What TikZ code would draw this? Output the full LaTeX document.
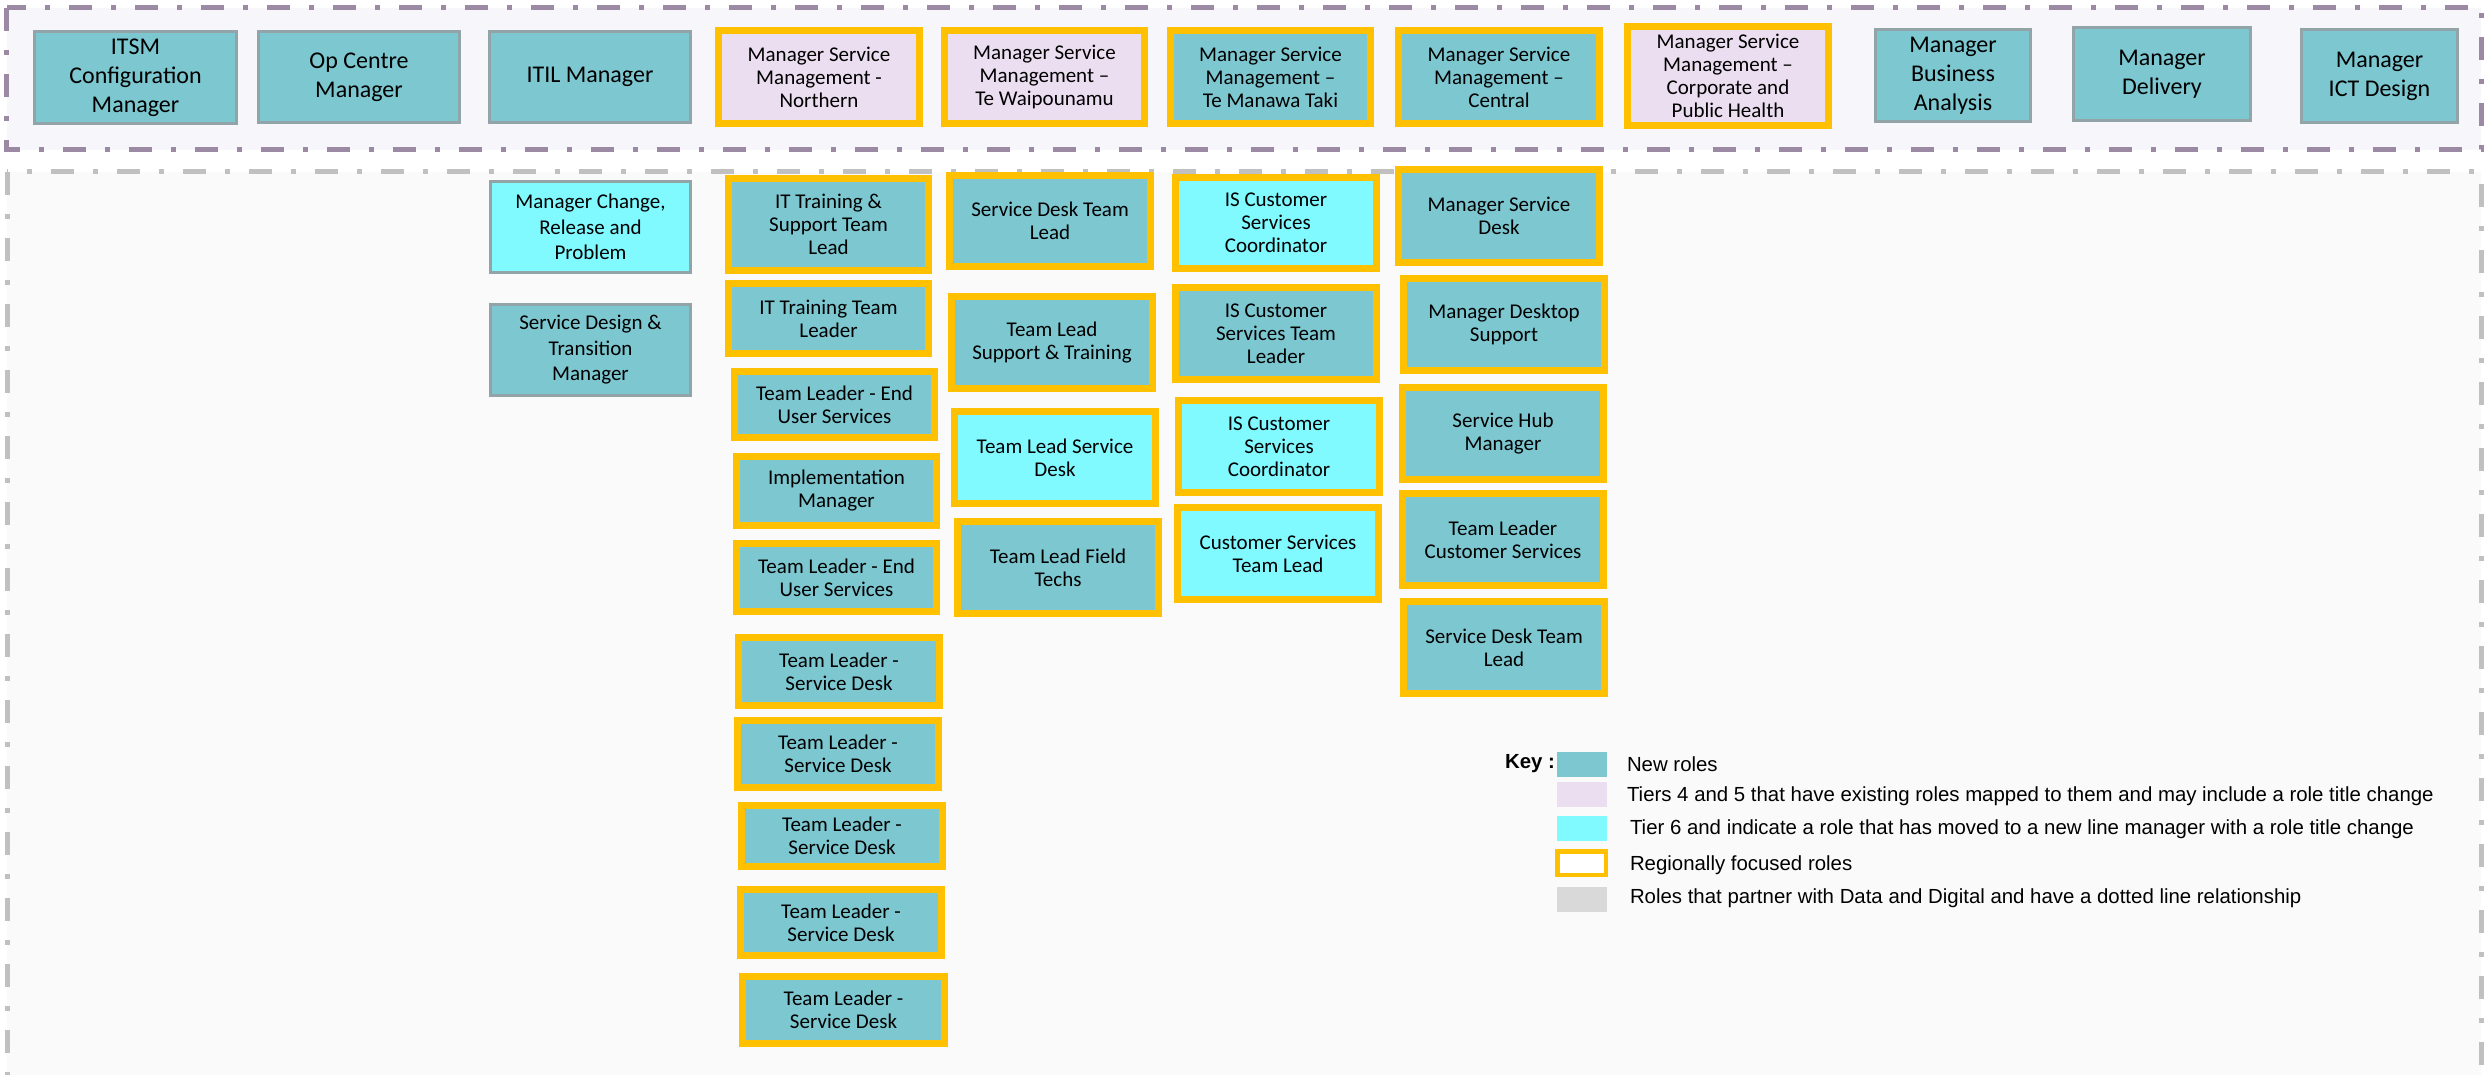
\documentclass[tikz,border=0pt]{standalone}
\usepackage{fontspec}
\setmainfont{Carlito}
\newfontfamily\keyfont{Liberation Sans}

\definecolor{roleteal}{RGB}{124,199,208}
\definecolor{rolecyan}{RGB}{128,249,255}
\definecolor{rolelav}{RGB}{235,222,240}
\definecolor{regyellow}{RGB}{255,192,0}
\definecolor{boxgray}{RGB}{146,164,168}
\definecolor{bandpurple}{RGB}{156,138,165}
\definecolor{bandpurplefill}{RGB}{247,246,250}
\definecolor{bandgray}{RGB}{192,192,192}
\definecolor{bandgrayfill}{RGB}{250,250,250}
\definecolor{keygray}{RGB}{217,217,217}

\tikzset{
  role/.style={inner sep=0pt, outer sep=0pt, align=center, text=black,
    font=\fontsize{21}{23}\selectfont},
  plainrole/.style={role, draw=boxgray, line width=3pt,
    font=\fontsize{21}{25.5}\selectfont},
  toprole/.style={plainrole, font=\fontsize{24}{29}\selectfont},
  regional/.style={role, draw=regyellow, line width=7pt},
  band/.style={line width=5pt, dash pattern=on 23pt off 19pt on 5pt off 19pt},
  swatch/.style={inner sep=0pt, outer sep=0pt, minimum width=50pt, minimum height=25pt},
  keytext/.style={inner sep=0pt, outer sep=0pt, anchor=west, text=black,
    font=\keyfont\fontsize{20.4}{24}\selectfont},
}

% \boxat{name}{style}{fill}{x1}{y1}{x2}{y2}{text}; the outer edge of the border spans x1..x2, y1..y2
\newcommand\boxat[8]{%
  \node[#2, fill=#3,
    minimum width={(#6-#4)*1pt-\pgflinewidth},
    minimum height={(#7-#5)*1pt-\pgflinewidth}]
    (#1) at ({(#4+#6)/2},{(#5+#7)/2}) {#8};}

\begin{document}
\begin{tikzpicture}[x=1pt, y=-1pt]
\useasboundingbox (0,0) rectangle (2484,1074);
\clip (0,0) rectangle (2484,1074);
\fill[white] (0,0) rectangle (2484,1074);

% tier bands
\draw[band, draw=bandpurple, fill=bandpurplefill] (6.5,7.5) rectangle (2481,149.5);
\draw[band, draw=bandgray, fill=bandgrayfill] (7,171.5) rectangle (2481,1130);

% top tier
\boxat{itsm}{toprole}{roleteal}{33}{30}{238}{125}{ITSM\\Configuration\\Manager}
\boxat{opc}{toprole}{roleteal}{257}{30}{461}{124}{Op Centre\\Manager}
\boxat{itil}{toprole}{roleteal}{488}{30}{692}{124}{ITIL Manager}
\boxat{msmn}{regional}{rolelav}{715}{27}{923}{127}{Manager Service\\Management -\\Northern}
\boxat{msmw}{regional}{rolelav}{941}{27}{1148}{127}{Manager Service\\Management –\\Te Waipounamu}
\boxat{msmt}{regional}{roleteal}{1167}{27}{1374}{127}{Manager Service\\Management –\\Te Manawa Taki}
\boxat{msmc}{regional}{roleteal}{1395}{27}{1603}{127}{Manager Service\\Management –\\Central}
\boxat{msmp}{regional}{rolelav}{1624}{23}{1832}{129}{Manager Service\\Management –\\Corporate and\\Public Health}
\boxat{mba}{toprole}{roleteal}{1874}{28}{2032}{123}{Manager\\Business\\Analysis}
\boxat{mdel}{toprole}{roleteal}{2072}{26}{2252}{122}{Manager\\Delivery}
\boxat{mict}{toprole}{roleteal}{2300}{28}{2459}{124}{Manager\\ICT Design}

% column under ITIL Manager
\boxat{mcrp}{plainrole}{rolecyan}{489}{180}{692}{274}{Manager Change,\\Release and\\Problem}
\boxat{sdtm}{plainrole}{roleteal}{489}{303}{692}{397}{Service Design \&\\Transition\\Manager}

% column under Northern
\boxat{itts}{regional}{roleteal}{725}{175}{932}{274}{IT Training \&\\Support Team\\Lead}
\boxat{ittl}{regional}{roleteal}{725}{280}{932}{357}{IT Training Team\\Leader}
\boxat{eusa}{regional}{roleteal}{731}{368}{938}{441}{Team Leader - End\\User Services}
\boxat{impl}{regional}{roleteal}{733}{453}{940}{529}{Implementation\\Manager}
\boxat{eusb}{regional}{roleteal}{733}{540}{940}{615}{Team Leader - End\\User Services}
\boxat{tlsda}{regional}{roleteal}{735}{634}{943}{709}{Team Leader -\\Service Desk}
\boxat{tlsdb}{regional}{roleteal}{734}{717}{942}{791}{Team Leader -\\Service Desk}
\boxat{tlsdc}{regional}{roleteal}{738}{802}{946}{870}{Team Leader -\\Service Desk}
\boxat{tlsdd}{regional}{roleteal}{737}{886}{945}{959}{Team Leader -\\Service Desk}
\boxat{tlsde}{regional}{roleteal}{739}{973}{948}{1047}{Team Leader -\\Service Desk}

% column under Te Waipounamu
\boxat{sdtla}{regional}{roleteal}{946}{172}{1154}{270}{Service Desk Team\\Lead}
\boxat{tlst}{regional}{roleteal}{948}{293}{1156}{392}{Team Lead\\Support \& Training}
\boxat{tlsd}{regional}{rolecyan}{951}{408}{1159}{507}{Team Lead Service\\Desk}
\boxat{tlft}{regional}{roleteal}{954}{518}{1162}{617}{Team Lead Field\\Techs}

% column under Te Manawa Taki
\boxat{isca}{regional}{rolecyan}{1172}{174}{1380}{272}{IS Customer\\Services\\Coordinator}
\boxat{istl}{regional}{roleteal}{1172}{284}{1380}{383}{IS Customer\\Services Team\\Leader}
\boxat{iscb}{regional}{rolecyan}{1175}{397}{1383}{496}{IS Customer\\Services\\Coordinator}
\boxat{cstl}{regional}{rolecyan}{1174}{504}{1382}{603}{Customer Services\\Team Lead}

% column under Central
\boxat{msd}{regional}{roleteal}{1395}{166}{1603}{266}{Manager Service\\Desk}
\boxat{mds}{regional}{roleteal}{1400}{275}{1608}{374}{Manager Desktop\\Support}
\boxat{shm}{regional}{roleteal}{1399}{384}{1607}{483}{Service Hub\\Manager}
\boxat{tlcs}{regional}{roleteal}{1399}{490}{1607}{589}{Team Leader\\Customer Services}
\boxat{sdtlb}{regional}{roleteal}{1400}{598}{1608}{697}{Service Desk Team\\Lead}

% key
\node[keytext, anchor=east, font=\keyfont\bfseries\fontsize{20.4}{24}\selectfont] (keylabel) at (1555,764) {Key :};
\node[swatch, fill=roleteal] (sw1) at (1582,764.5) {};
\node[swatch, fill=rolelav] (sw2) at (1582,794.5) {};
\node[swatch, fill=rolecyan] (sw3) at (1582,828.5) {};
\node[swatch, fill=white, draw=regyellow, line width=4.5pt,
  minimum width=48.5pt, minimum height=23.5pt] (sw4) at (1581.5,863) {};
\node[swatch, fill=keygray] (sw5) at (1582,899.5) {};
\node[keytext] (kt1) at (1627,764.5) {New roles};
\node[keytext] (kt2) at (1627,796) {Tiers 4 and 5 that have existing roles mapped to them and may include a role title change};
\node[keytext] (kt3) at (1630,829.5) {Tier 6 and indicate a role that has moved to a new line manager with a role title change};
\node[keytext] (kt4) at (1630,865) {Regionally focused roles};
\node[keytext] (kt5) at (1630,898.5) {Roles that partner with Data and Digital and have a dotted line relationship};
\end{tikzpicture}
\end{document}
